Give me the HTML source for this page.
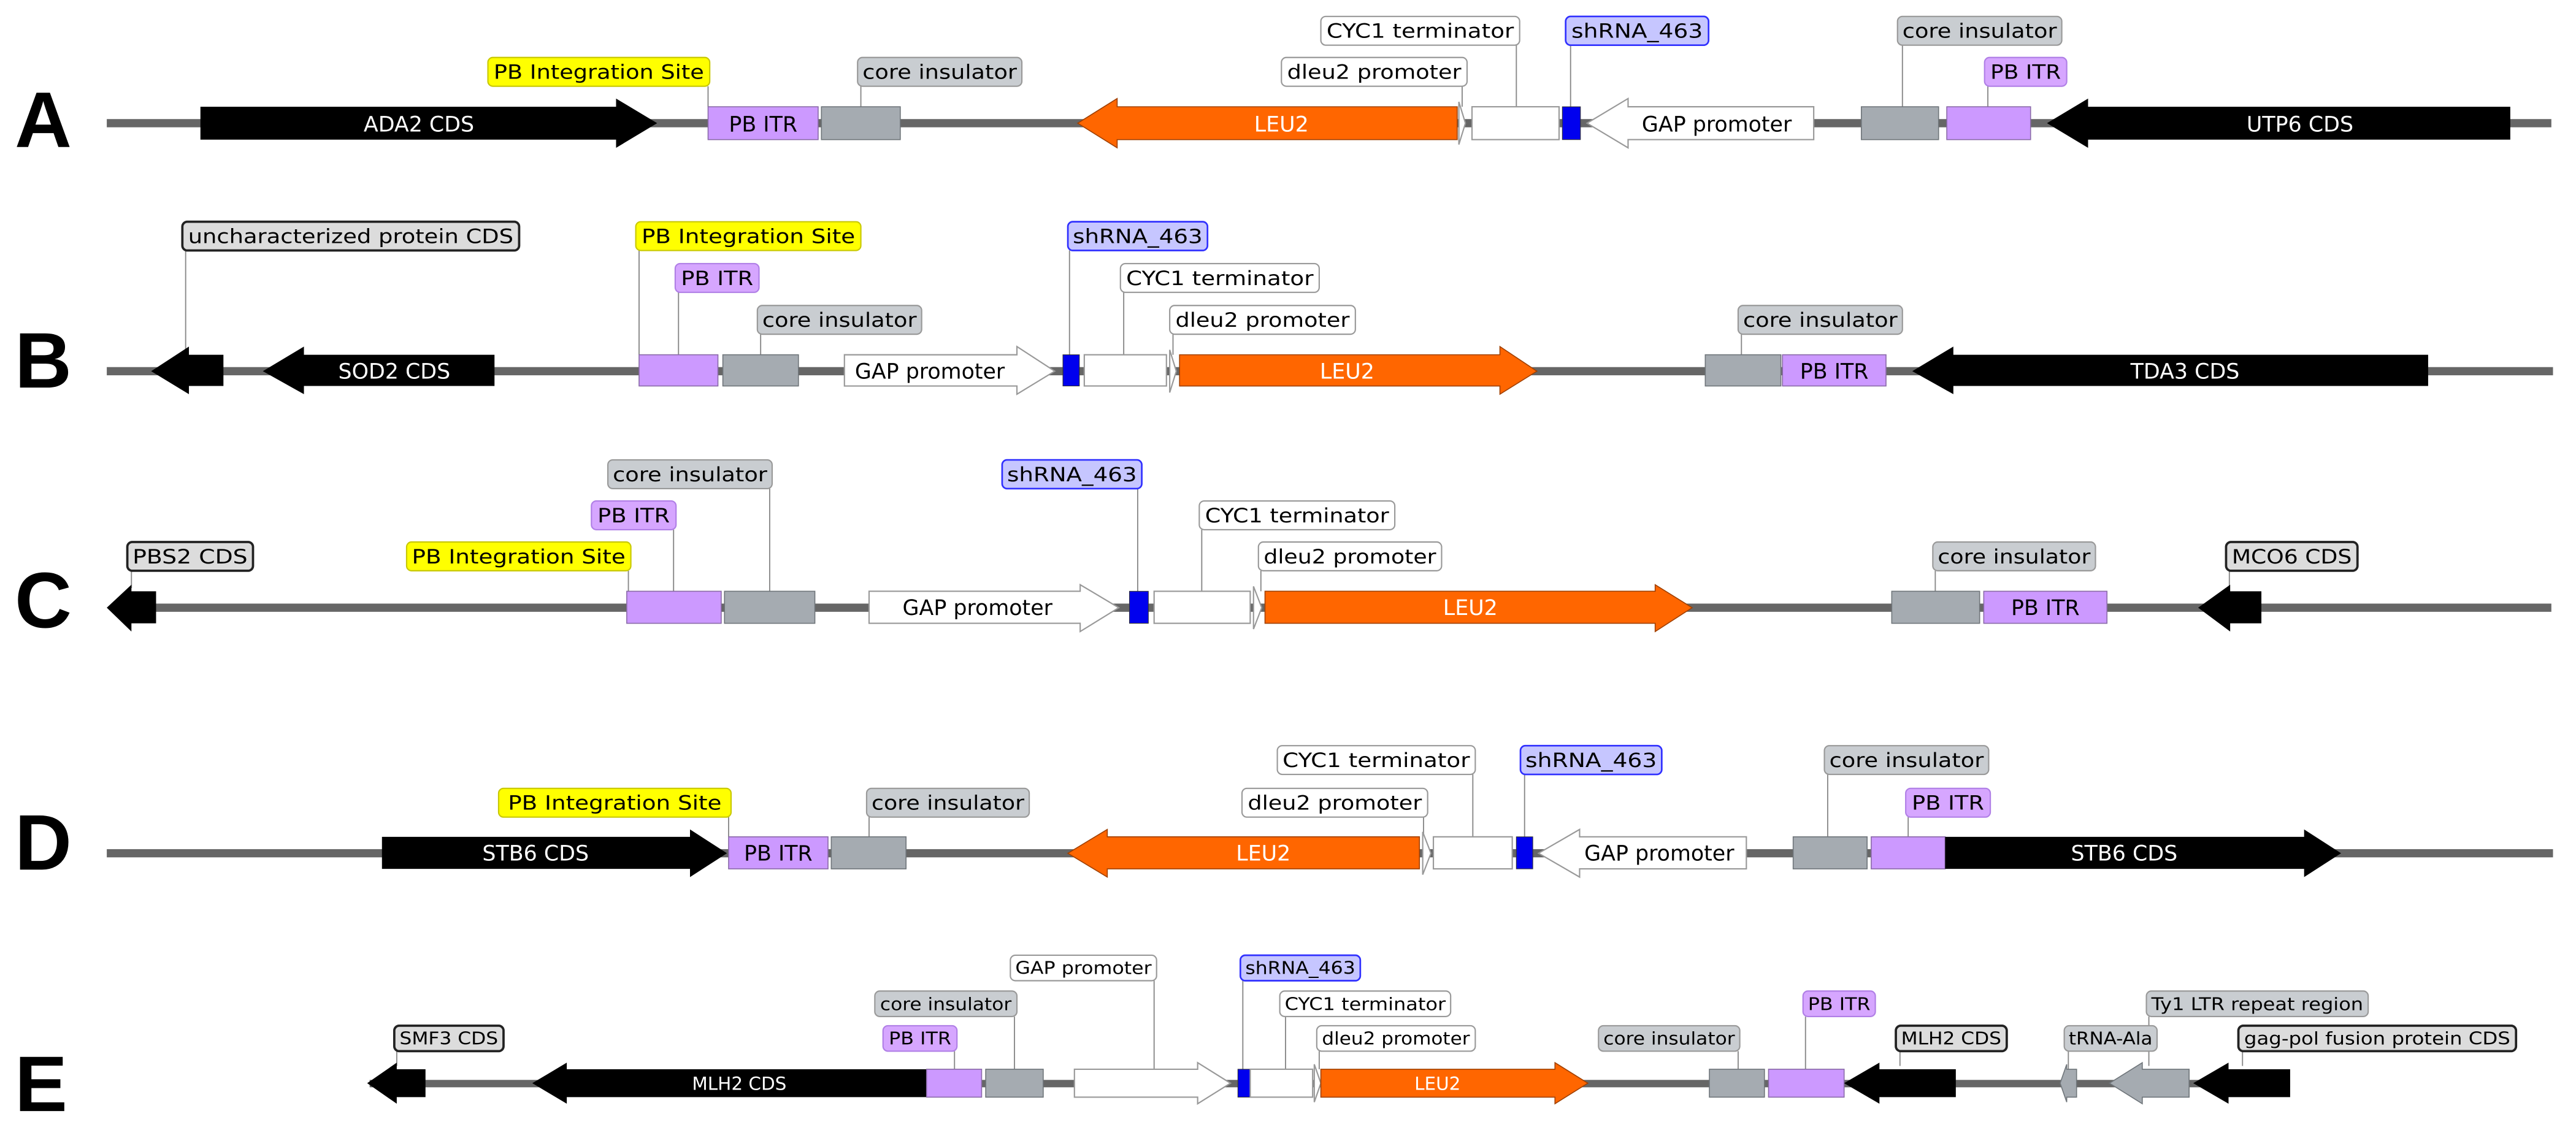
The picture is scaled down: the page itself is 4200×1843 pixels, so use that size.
<!DOCTYPE html>
<html><head><meta charset="utf-8"><style>
html,body{margin:0;padding:0;background:#fff;}
svg{display:block}
text{font-family:"DejaVu Sans","Liberation Sans",sans-serif;}
.w{fill:#fff;stroke:#999;stroke-width:.8}
.g{fill:#c9cdd1;stroke:#999;stroke-width:.8}
.p{fill:#d6a6ff;stroke:#b07fe6;stroke-width:.8}
.y{fill:#ffff00;stroke:#c8c800;stroke-width:.8}
.b{fill:#c6c6ff;stroke:#3030ff;stroke-width:1}
.c{fill:#dcdcdc;stroke:#222;stroke-width:1.4}
.lt{font-size:12px;fill:#000;text-anchor:middle}
.ls{font-size:10.5px;fill:#000;text-anchor:middle}
.ln{stroke:#888;stroke-width:.7}
.bb{fill:#666}
.k{fill:#000}
.o{fill:#ff6600;stroke:#a04000;stroke-width:.6}
.pi{fill:#cc99ff;stroke:#8a6aa8;stroke-width:.6}
.ci{fill:#a5abb1;stroke:#6f757a;stroke-width:.6}
.wb{fill:#fff;stroke:#999;stroke-width:.8}
.sh{fill:#0000ee;stroke:#333;stroke-width:.4}
.tw{font-size:13px;fill:#fff;text-anchor:middle}
.tb{font-size:13px;fill:#000;text-anchor:middle}
.tws{font-size:11px;fill:#fff;text-anchor:middle}
.L{font-family:"Liberation Sans",sans-serif;font-weight:bold;font-size:48px;fill:#000}
</style></head><body>
<svg width="4200" height="1843" viewBox="0 0 1568 688" preserveAspectRatio="none" xmlns="http://www.w3.org/2000/svg">
<!-- letters -->
<text class="L" x="9" y="89.5">A</text>
<text class="L" x="9" y="236">B</text>
<text class="L" x="9" y="382">C</text>
<text class="L" x="9" y="529.5">D</text>
<text class="L" x="9" y="676.5">E</text>

<!-- ROW A -->
<rect class="bb" x="65" y="72.5" width="1488" height="5"/>
<g>
<line class="ln" x1="431" y1="52.5" x2="431" y2="65"/>
<line class="ln" x1="524" y1="52.5" x2="524" y2="65"/>
<line class="ln" x1="890" y1="52.5" x2="890" y2="65"/>
<line class="ln" x1="923" y1="27.5" x2="923" y2="65"/>
<line class="ln" x1="956" y1="27.5" x2="956" y2="65"/>
<line class="ln" x1="1158" y1="27.5" x2="1158" y2="65"/>
<line class="ln" x1="1210" y1="52.5" x2="1210" y2="65"/>
<rect class="y" x="297" y="35" width="135" height="17.5" rx="3"/><text class="lt" x="364.5" y="48" textLength="128" lengthAdjust="spacingAndGlyphs">PB Integration Site</text>
<rect class="g" x="522" y="35" width="100" height="17.5" rx="3"/><text class="lt" x="572" y="48" textLength="94" lengthAdjust="spacingAndGlyphs">core insulator</text>
<rect class="w" x="780" y="35" width="113" height="17.5" rx="3"/><text class="lt" x="836.5" y="48" textLength="106" lengthAdjust="spacingAndGlyphs">dleu2 promoter</text>
<rect class="w" x="804" y="10" width="121" height="17.5" rx="3"/><text class="lt" x="864.5" y="23" textLength="114" lengthAdjust="spacingAndGlyphs">CYC1 terminator</text>
<rect class="b" x="953" y="10" width="87" height="17.5" rx="3"/><text class="lt" x="996.5" y="23" textLength="80" lengthAdjust="spacingAndGlyphs">shRNA_463</text>
<rect class="g" x="1155" y="10" width="100" height="17.5" rx="3"/><text class="lt" x="1205" y="23" textLength="94" lengthAdjust="spacingAndGlyphs">core insulator</text>
<rect class="p" x="1208" y="35" width="50" height="17.5" rx="3"/><text class="lt" x="1233" y="48" textLength="43" lengthAdjust="spacingAndGlyphs">PB ITR</text>
</g>
<polygon class="k" points="122,65 375,65 375,60 400,75 375,90 375,85 122,85"/><text class="tw" x="255" y="80">ADA2 CDS</text>
<rect class="pi" x="431" y="65" width="67" height="20"/><text class="tb" x="464.5" y="80">PB ITR</text>
<rect class="ci" x="500" y="65" width="48" height="20"/>
<polygon class="o" points="656,75 680,60 680,65 887,65 887,85 680,85 680,90"/><text class="tw" x="780" y="80">LEU2</text>
<polygon class="wb" points="888,62 892,75 888,88"/>
<rect class="wb" x="896" y="65" width="53" height="20"/>
<rect class="sh" x="951" y="65" width="11" height="20"/>
<polygon class="wb" points="966,75 991,60 991,65 1104,65 1104,85 991,85 991,90"/><text class="tb" x="1045" y="80">GAP promoter</text>
<rect class="ci" x="1133" y="65" width="47" height="20"/>
<rect class="pi" x="1185" y="65" width="51" height="20"/>
<polygon class="k" points="1246,75 1271,60 1271,65 1528,65 1528,85 1271,85 1271,90"/><text class="tw" x="1400" y="80">UTP6 CDS</text>

<!-- ROW B -->
<rect class="bb" x="65" y="223.5" width="1489" height="5"/>
<g>
<line class="ln" x1="113" y1="152.5" x2="113" y2="214"/>
<line class="ln" x1="389" y1="152.5" x2="389" y2="216"/>
<line class="ln" x1="413" y1="178" x2="413" y2="216"/>
<line class="ln" x1="463" y1="203.5" x2="463" y2="216"/>
<line class="ln" x1="651" y1="152.5" x2="651" y2="216"/>
<line class="ln" x1="684" y1="178" x2="684" y2="216"/>
<line class="ln" x1="714" y1="203.5" x2="714" y2="216"/>
<line class="ln" x1="1060" y1="203.5" x2="1060" y2="216"/>
<rect class="c" x="111" y="135" width="205" height="17.5" rx="3"/><text class="lt" x="213.5" y="148" textLength="198" lengthAdjust="spacingAndGlyphs">uncharacterized protein CDS</text>
<rect class="y" x="387" y="135" width="137" height="17.5" rx="3"/><text class="lt" x="455.5" y="148" textLength="130" lengthAdjust="spacingAndGlyphs">PB Integration Site</text>
<rect class="p" x="411" y="160.5" width="51" height="17.5" rx="3"/><text class="lt" x="436.5" y="173.5" textLength="44" lengthAdjust="spacingAndGlyphs">PB ITR</text>
<rect class="g" x="461" y="186" width="100" height="17.5" rx="3"/><text class="lt" x="511" y="199" textLength="94" lengthAdjust="spacingAndGlyphs">core insulator</text>
<rect class="b" x="650" y="135" width="85" height="17.5" rx="3"/><text class="lt" x="692.5" y="148" textLength="79" lengthAdjust="spacingAndGlyphs">shRNA_463</text>
<rect class="w" x="682" y="160.5" width="121" height="17.5" rx="3"/><text class="lt" x="742.5" y="173.5" textLength="114" lengthAdjust="spacingAndGlyphs">CYC1 terminator</text>
<rect class="w" x="712" y="186" width="113" height="17.5" rx="3"/><text class="lt" x="768.5" y="199" textLength="106" lengthAdjust="spacingAndGlyphs">dleu2 promoter</text>
<rect class="g" x="1058" y="186" width="100" height="17.5" rx="3"/><text class="lt" x="1108" y="199" textLength="94" lengthAdjust="spacingAndGlyphs">core insulator</text>
</g>
<polygon class="k" points="92,226 115,211 115,216 136,216 136,235 115,235 115,240"/>
<polygon class="k" points="160,226 185,211 185,216 301,216 301,235 185,235 185,240"/><text class="tw" x="240" y="230.5">SOD2 CDS</text>
<rect class="pi" x="389" y="216" width="48" height="19"/>
<rect class="ci" x="440" y="216" width="46" height="19"/>
<polygon class="wb" points="514,216 619,216 619,211 642,226 619,240 619,235 514,235"/><text class="tb" x="566" y="230.5">GAP promoter</text>
<rect class="sh" x="647" y="216" width="10" height="19"/>
<rect class="wb" x="660" y="216" width="50" height="19"/>
<polygon class="wb" points="712,213 716,226 712,239"/>
<polygon class="o" points="718,216 913,216 913,211 935.5,226 913,240 913,235 718,235"/><text class="tw" x="820" y="230.5">LEU2</text>
<rect class="ci" x="1038" y="216" width="46" height="19"/>
<rect class="pi" x="1085" y="216" width="63" height="19"/><text class="tb" x="1116.5" y="230.5">PB ITR</text>
<polygon class="k" points="1164,226 1189,211 1189,216 1478,216 1478,235 1189,235 1189,240"/><text class="tw" x="1330" y="230.5">TDA3 CDS</text>

<!-- ROW C -->
<rect class="bb" x="80" y="367.5" width="1473" height="5"/>
<g>
<line class="ln" x1="468.5" y1="297.5" x2="468.5" y2="360"/>
<line class="ln" x1="692.5" y1="297.5" x2="692.5" y2="360"/>
<line class="ln" x1="410" y1="322.5" x2="410" y2="360"/>
<line class="ln" x1="731.5" y1="322.5" x2="731.5" y2="360"/>
<line class="ln" x1="80" y1="347.5" x2="80" y2="358"/>
<line class="ln" x1="382.5" y1="347.5" x2="382.5" y2="360"/>
<line class="ln" x1="767.5" y1="347.5" x2="767.5" y2="360"/>
<line class="ln" x1="1178" y1="347.5" x2="1178" y2="360"/>
<line class="ln" x1="1357" y1="347.5" x2="1357" y2="358"/>
<rect class="g" x="370" y="280" width="100" height="17.5" rx="3"/><text class="lt" x="420" y="293" textLength="94" lengthAdjust="spacingAndGlyphs">core insulator</text>
<rect class="b" x="610" y="280" width="85" height="17.5" rx="3"/><text class="lt" x="652.5" y="293" textLength="79" lengthAdjust="spacingAndGlyphs">shRNA_463</text>
<rect class="p" x="360" y="305" width="51.5" height="17.5" rx="3"/><text class="lt" x="385.7" y="318" textLength="44" lengthAdjust="spacingAndGlyphs">PB ITR</text>
<rect class="w" x="730" y="305" width="119" height="17.5" rx="3"/><text class="lt" x="789.5" y="318" textLength="112" lengthAdjust="spacingAndGlyphs">CYC1 terminator</text>
<rect class="c" x="77.5" y="330" width="76.5" height="17.5" rx="3"/><text class="lt" x="115.7" y="343" textLength="70" lengthAdjust="spacingAndGlyphs">PBS2 CDS</text>
<rect class="y" x="247.5" y="330" width="136.5" height="17.5" rx="3"/><text class="lt" x="315.7" y="343" textLength="130" lengthAdjust="spacingAndGlyphs">PB Integration Site</text>
<rect class="w" x="766" y="330" width="111.5" height="17.5" rx="3"/><text class="lt" x="821.7" y="343" textLength="105" lengthAdjust="spacingAndGlyphs">dleu2 promoter</text>
<rect class="g" x="1176.5" y="330" width="99" height="17.5" rx="3"/><text class="lt" x="1226" y="343" textLength="93" lengthAdjust="spacingAndGlyphs">core insulator</text>
<rect class="c" x="1355" y="330" width="80" height="17.5" rx="3"/><text class="lt" x="1395" y="343" textLength="73" lengthAdjust="spacingAndGlyphs">MCO6 CDS</text>
</g>
<polygon class="k" points="65,370 80,356 80,360 95,360 95,379.5 80,379.5 80,384.5"/>
<rect class="pi" x="381.5" y="360" width="57.5" height="19.5"/>
<rect class="ci" x="441" y="360" width="55" height="19.5"/>
<polygon class="wb" points="529,360 657.5,360 657.5,356 681,370 657.5,384.5 657.5,379.5 529,379.5"/><text class="tb" x="595" y="374.5">GAP promoter</text>
<rect class="sh" x="687.5" y="360" width="11.5" height="19.5"/>
<rect class="wb" x="702.5" y="360" width="58.5" height="19.5"/>
<polygon class="wb" points="763,357 768,370 763,383"/>
<polygon class="o" points="770,360 1007.5,360 1007.5,356 1030,370 1007.5,384.5 1007.5,379.5 770,379.5"/><text class="tw" x="895" y="374.5">LEU2</text>
<rect class="ci" x="1151.5" y="360" width="53.5" height="19.5"/>
<rect class="pi" x="1207.5" y="360" width="75" height="19.5"/><text class="tb" x="1245" y="374.5">PB ITR</text>
<polygon class="k" points="1338,370 1357.5,356 1357.5,360 1376.5,360 1376.5,379.5 1357.5,379.5 1357.5,384.5"/>

<!-- ROW D -->
<rect class="bb" x="65" y="517" width="1489" height="5"/>
<g>
<line class="ln" x1="443.5" y1="497.5" x2="443.5" y2="509.5"/>
<line class="ln" x1="529" y1="497.5" x2="529" y2="509.5"/>
<line class="ln" x1="866.5" y1="497.5" x2="866.5" y2="509.5"/>
<line class="ln" x1="896.5" y1="471.5" x2="896.5" y2="509.5"/>
<line class="ln" x1="928" y1="471.5" x2="928" y2="509.5"/>
<line class="ln" x1="1112.5" y1="471.5" x2="1112.5" y2="509.5"/>
<line class="ln" x1="1161.5" y1="497.5" x2="1161.5" y2="509.5"/>
<rect class="y" x="303.5" y="480" width="141.5" height="17.5" rx="3"/><text class="lt" x="374.2" y="493" textLength="130" lengthAdjust="spacingAndGlyphs">PB Integration Site</text>
<rect class="g" x="527.5" y="480" width="99" height="17.5" rx="3"/><text class="lt" x="577" y="493" textLength="93" lengthAdjust="spacingAndGlyphs">core insulator</text>
<rect class="w" x="756" y="480" width="113" height="17.5" rx="3"/><text class="lt" x="812.5" y="493" textLength="106" lengthAdjust="spacingAndGlyphs">dleu2 promoter</text>
<rect class="w" x="777.5" y="454" width="120.5" height="17.5" rx="3"/><text class="lt" x="837.7" y="467" textLength="114" lengthAdjust="spacingAndGlyphs">CYC1 terminator</text>
<rect class="b" x="925.5" y="454" width="86" height="17.5" rx="3"/><text class="lt" x="968.5" y="467" textLength="80" lengthAdjust="spacingAndGlyphs">shRNA_463</text>
<rect class="g" x="1110.5" y="454" width="100" height="17.5" rx="3"/><text class="lt" x="1160.5" y="467" textLength="94" lengthAdjust="spacingAndGlyphs">core insulator</text>
<rect class="p" x="1160" y="480" width="51.5" height="17.5" rx="3"/><text class="lt" x="1185.7" y="493" textLength="44" lengthAdjust="spacingAndGlyphs">PB ITR</text>
</g>
<polygon class="k" points="232.5,509.5 420,509.5 420,505 442.5,519.5 420,534 420,529 232.5,529"/><text class="tw" x="326" y="524">STB6 CDS</text>
<rect class="pi" x="443.5" y="509.5" width="60.5" height="19.5"/><text class="tb" x="473.7" y="524">PB ITR</text>
<rect class="ci" x="506" y="509.5" width="45.5" height="19.5"/>
<polygon class="o" points="650,519.5 674,505 674,509.5 864,509.5 864,529 674,529 674,534"/><text class="tw" x="769" y="524">LEU2</text>
<polygon class="wb" points="866,506.5 871,519.5 866,532.5"/>
<rect class="wb" x="872.5" y="509.5" width="48" height="19.5"/>
<rect class="sh" x="923" y="509.5" width="10" height="19.5"/>
<polygon class="wb" points="936.5,519.5 961.5,505 961.5,509.5 1063,509.5 1063,529 961.5,529 961.5,534"/><text class="tb" x="1010" y="524">GAP promoter</text>
<rect class="ci" x="1091.5" y="509.5" width="45" height="19.5"/>
<rect class="pi" x="1139" y="509.5" width="45" height="19.5"/>
<polygon class="k" points="1184,509.5 1402.5,509.5 1402.5,505 1425,519.5 1402.5,534 1402.5,529 1184,529"/><text class="tw" x="1293" y="524">STB6 CDS</text>

<!-- ROW E -->
<rect class="bb" x="225" y="657.5" width="1169" height="4.5"/>
<g>
<line class="ln" x1="241.5" y1="640" x2="241.5" y2="649"/>
<line class="ln" x1="581" y1="640" x2="581" y2="651"/>
<line class="ln" x1="617.5" y1="619" x2="617.5" y2="651"/>
<line class="ln" x1="702.5" y1="597" x2="702.5" y2="651"/>
<line class="ln" x1="756.5" y1="597" x2="756.5" y2="651"/>
<line class="ln" x1="782.5" y1="619" x2="782.5" y2="651"/>
<line class="ln" x1="803" y1="640" x2="803" y2="651"/>
<line class="ln" x1="1058" y1="640" x2="1058" y2="651"/>
<line class="ln" x1="1099" y1="619" x2="1099" y2="651"/>
<line class="ln" x1="1156.5" y1="640" x2="1156.5" y2="649"/>
<line class="ln" x1="1259" y1="640" x2="1259" y2="651"/>
<line class="ln" x1="1308" y1="619" x2="1308" y2="649"/>
<line class="ln" x1="1365" y1="640" x2="1365" y2="649"/>
<rect class="c" x="240" y="624.5" width="66.5" height="15.5" rx="3"/><text class="ls" x="273.2" y="636" textLength="60" lengthAdjust="spacingAndGlyphs">SMF3 CDS</text>
<rect class="p" x="537.5" y="624.5" width="45" height="15.5" rx="3"/><text class="ls" x="560" y="636" textLength="38" lengthAdjust="spacingAndGlyphs">PB ITR</text>
<rect class="g" x="532.5" y="603.4" width="86.5" height="15.5" rx="3"/><text class="ls" x="575.7" y="615" textLength="80" lengthAdjust="spacingAndGlyphs">core insulator</text>
<rect class="w" x="615" y="581.6" width="89" height="15.5" rx="3"/><text class="ls" x="659.5" y="593" textLength="83" lengthAdjust="spacingAndGlyphs">GAP promoter</text>
<rect class="b" x="755" y="581.6" width="73" height="15.5" rx="3"/><text class="ls" x="791.5" y="593" textLength="67" lengthAdjust="spacingAndGlyphs">shRNA_463</text>
<rect class="w" x="779" y="603.4" width="104" height="15.5" rx="3"/><text class="ls" x="831" y="615" textLength="98" lengthAdjust="spacingAndGlyphs">CYC1 terminator</text>
<rect class="w" x="801.5" y="624.5" width="96.5" height="15.5" rx="3"/><text class="ls" x="849.7" y="636" textLength="90" lengthAdjust="spacingAndGlyphs">dleu2 promoter</text>
<rect class="g" x="973" y="624.5" width="86" height="15.5" rx="3"/><text class="ls" x="1016" y="636" textLength="80" lengthAdjust="spacingAndGlyphs">core insulator</text>
<rect class="p" x="1097.5" y="603.4" width="44" height="15.5" rx="3"/><text class="ls" x="1119.5" y="615" textLength="38" lengthAdjust="spacingAndGlyphs">PB ITR</text>
<rect class="c" x="1154" y="624.5" width="67.5" height="15.5" rx="3"/><text class="ls" x="1187.7" y="636" textLength="61" lengthAdjust="spacingAndGlyphs">MLH2 CDS</text>
<rect class="g" x="1256.5" y="624.5" width="56.5" height="15.5" rx="3"/><text class="ls" x="1284.7" y="636" textLength="51" lengthAdjust="spacingAndGlyphs">tRNA-Ala</text>
<rect class="g" x="1306.5" y="603.4" width="135" height="15.5" rx="3"/><text class="ls" x="1374" y="615" textLength="129" lengthAdjust="spacingAndGlyphs">Ty1 LTR repeat region</text>
<rect class="c" x="1362.5" y="624.5" width="169" height="15.5" rx="3"/><text class="ls" x="1447" y="636" textLength="162" lengthAdjust="spacingAndGlyphs">gag-pol fusion protein CDS</text>
</g>
<polygon class="k" points="223.5,659.5 241.5,647 241.5,651 259,651 259,668 241.5,668 241.5,672"/>
<polygon class="k" points="324,659.5 345,647 345,651 564,651 564,668 345,668 345,672"/><text class="tws" x="450" y="663.5">MLH2 CDS</text>
<rect class="pi" x="564" y="651" width="33.5" height="17"/>
<rect class="ci" x="600" y="651" width="35" height="17"/>
<polygon class="wb" points="654,651 729,651 729,647 749,659.5 729,672 729,668 654,668"/>
<rect class="sh" x="753.5" y="651" width="7.5" height="17"/>
<rect class="wb" x="761" y="651" width="38" height="17"/>
<polygon class="wb" points="800,648 804,659.5 800,671"/>
<polygon class="o" points="804,651 946.5,651 946.5,647 966.5,659.5 946.5,672 946.5,668 804,668"/><text class="tws" x="875" y="663.5">LEU2</text>
<rect class="ci" x="1040.5" y="651" width="33.5" height="17"/>
<rect class="pi" x="1076.5" y="651" width="46" height="17"/>
<polygon class="k" points="1122.5,659.5 1144,647 1144,651 1190.5,651 1190.5,668 1144,668 1144,672"/>
<polygon class="ci" points="1254,659.5 1258,648 1258,651 1264,651 1264,668 1258,668 1258,671"/>
<polygon class="ci" points="1284,659.5 1304,647 1304,651 1332.5,651 1332.5,668 1304,668 1304,672"/>
<polygon class="k" points="1335,659.5 1356.5,647 1356.5,651 1394,651 1394,668 1356.5,668 1356.5,672"/>
</svg>
</body></html>
